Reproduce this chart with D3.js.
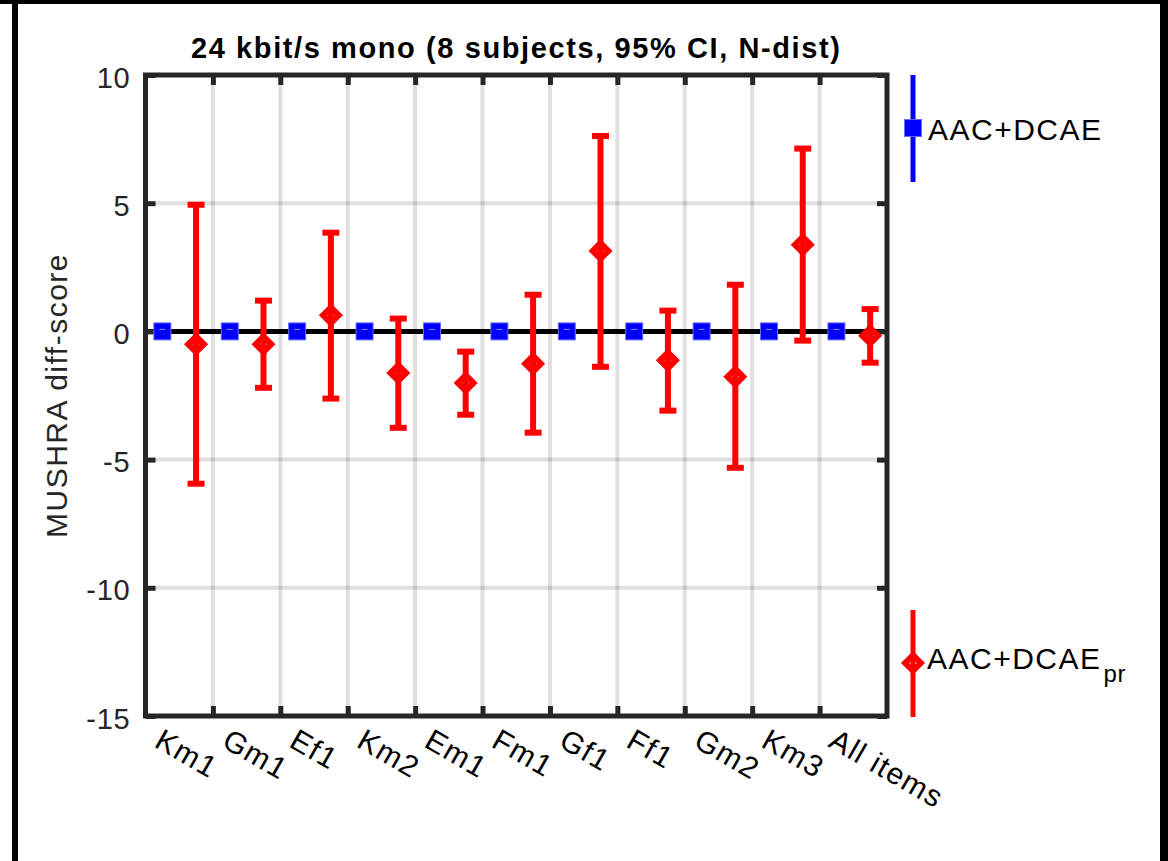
<!DOCTYPE html>
<html>
<head>
<meta charset="utf-8">
<script src="https://cdn.jsdelivr.net/npm/d3@7"></script>
<style>
  html, body { margin: 0; padding: 0; background: #fff; }
  svg { display: block; }
  text { font-family: "Liberation Sans", Arial, Helvetica, sans-serif; }
</style>
</head>
<body>
<script>
// ---- Data ----
const categories = ["Km1", "Gm1", "Ef1", "Km2", "Em1", "Fm1", "Gf1", "Ff1", "Gm2", "Km3", "All items"];
const refMean = [0, 0, 0, 0, 0, 0, 0, 0, 0, 0, 0];            // AAC+DCAE (reference, diff = 0)
const prMean  = [-0.50, -0.50, 0.63, -1.62, -2.01, -1.26, 3.14, -1.13, -1.77, 3.38, -0.17]; // AAC+DCAE_pr
const prLow   = [-5.94, -2.20, -2.62, -3.76, -3.25, -3.95, -1.38, -3.09, -5.32, -0.36, -1.22];
const prHigh  = [4.94, 1.20, 3.85, 0.50, -0.79, 1.43, 7.62, 0.81, 1.82, 7.13, 0.87];
const yTicks  = [-15, -10, -5, 0, 5, 10];
const yDomain = [-15, 10];
const titleText = "24 kbit/s mono (8 subjects, 95% CI, N-dist)";
const yLabel = "MUSHRA diff-score";
const seriesNames = ["AAC+DCAE", "AAC+DCAE"];

// ---- Layout ----
const W = 1168, H = 861;
const L = 145.5, R = 887, T = 75, B = 716;
const axisColor = "#262626";
const FF = "Liberation Sans, Arial, sans-serif";

const svg = d3.select("body").append("svg").attr("width", W).attr("height", H);

// outer frame (black borders of the figure image)
svg.append("rect").attr("x", 0).attr("y", 0).attr("width", W).attr("height", 4).attr("fill", "#000");
svg.append("rect").attr("x", 12).attr("y", 0).attr("width", 6).attr("height", H).attr("fill", "#000");
svg.append("rect").attr("x", 1160).attr("y", 0).attr("width", 8).attr("height", H).attr("fill", "#000");

const x = d3.scaleLinear().domain([0.5, categories.length + 0.5]).range([L, R]);
const y = d3.scaleLinear().domain(yDomain).range([B, T]);

const idx = categories.map((c, i) => i + 1);
const gridX = idx.slice(0, -1).map(i => i + 0.5);   // 1.5 ... 10.5
const labelX = idx.map(i => i - 0.5);               // 0.5 ... 10.5

// gridlines
const grid = svg.append("g");
grid.selectAll("line.gx").data(gridX).join("line")
  .attr("x1", d => x(d)).attr("x2", d => x(d)).attr("y1", T).attr("y2", B)
  .attr("stroke", axisColor).attr("stroke-opacity", 0.15).attr("stroke-width", 4);
grid.selectAll("line.gy").data(yTicks.filter(v => v > yDomain[0] && v < yDomain[1])).join("line")
  .attr("x1", L).attr("x2", R).attr("y1", d => y(d)).attr("y2", d => y(d))
  .attr("stroke", axisColor).attr("stroke-opacity", 0.15).attr("stroke-width", 4);

// zero line
svg.append("line").attr("x1", L).attr("x2", R).attr("y1", y(0)).attr("y2", y(0))
  .attr("stroke", "#000").attr("stroke-width", 5);

// axes (ticks inward)
const tickLen = 10;
const yAxisL = svg.append("g").attr("transform", `translate(${L},0)`)
  .call(d3.axisLeft(y).tickValues(yTicks).tickSize(-tickLen).tickPadding(15).tickSizeOuter(0)
    .tickFormat(d => String(d)));
yAxisL.select(".domain").remove();
yAxisL.selectAll(".tick line").attr("stroke", axisColor).attr("stroke-width", 5);
yAxisL.selectAll(".tick text").attr("fill", axisColor).attr("font-size", 29).attr("dy", "0.42em")
  .attr("letter-spacing", 0.8).attr("font-family", FF);

const yAxisR = svg.append("g").attr("transform", `translate(${R},0)`)
  .call(d3.axisRight(y).tickValues(yTicks).tickSize(-tickLen).tickFormat("").tickSizeOuter(0));
yAxisR.select(".domain").remove();
yAxisR.selectAll(".tick line").attr("stroke", axisColor).attr("stroke-width", 5);

const xAxisT = svg.append("g").attr("transform", `translate(0,${T})`)
  .call(d3.axisTop(x).tickValues(gridX).tickSize(-tickLen).tickFormat("").tickSizeOuter(0));
xAxisT.select(".domain").remove();
xAxisT.selectAll(".tick line").attr("stroke", axisColor).attr("stroke-width", 5);

const xAxisB = svg.append("g").attr("transform", `translate(0,${B})`)
  .call(d3.axisBottom(x).tickValues(gridX).tickSize(-tickLen).tickFormat("").tickSizeOuter(0));
xAxisB.select(".domain").remove();
xAxisB.selectAll(".tick line").attr("stroke", axisColor).attr("stroke-width", 5);

// x tick labels (rotated), at 0.5 ... 10.5
const lxOff = 7, lyOff = 30;
const xLab = svg.append("g").attr("transform", `translate(0,${B})`)
  .call(d3.axisBottom(x).tickValues(labelX).tickSize(0).tickFormat(d => categories[Math.round(d + 0.5) - 1]));
xLab.select(".domain").remove();
xLab.selectAll(".tick text")
  .attr("fill", "#000").attr("font-size", 30).attr("text-anchor", "start")
  .attr("letter-spacing", 1.4).attr("font-family", FF)
  .attr("x", lxOff).attr("y", lyOff).attr("dy", 0)
  .attr("transform", `rotate(30,${lxOff},${lyOff})`);

// box
svg.append("rect").attr("x", L).attr("y", T).attr("width", R - L).attr("height", B - T)
  .attr("fill", "none").attr("stroke", axisColor).attr("stroke-width", 5);

// ---- Series 1: AAC+DCAE (blue squares) ----
const sq = 17;
svg.append("g").selectAll("rect").data(refMean).join("rect")
  .attr("x", (d, i) => x(i + 1 - 0.25) - sq / 2).attr("y", d => y(d) - sq / 2)
  .attr("width", sq).attr("height", sq)
  .attr("fill", "#0000ff").attr("stroke", "#6a6aff").attr("stroke-width", 1);
svg.append("g").selectAll("line").data(refMean).join("line")
  .attr("x1", (d, i) => x(i + 1 - 0.25) - 3).attr("x2", (d, i) => x(i + 1 - 0.25) + 3)
  .attr("y1", d => y(d) - 2).attr("y2", d => y(d) - 2)
  .attr("stroke", "#8c8cff").attr("stroke-width", 1);

// ---- Series 2: AAC+DCAE_pr (red diamonds with 95% CI) ----
const red = "#ff0000";
const capW = 17, barW = 6;
const eb = svg.append("g");
eb.selectAll("line.v").data(prMean).join("line")
  .attr("x1", (d, i) => x(i + 1 + 0.25)).attr("x2", (d, i) => x(i + 1 + 0.25))
  .attr("y1", (d, i) => y(prLow[i])).attr("y2", (d, i) => y(prHigh[i]))
  .attr("stroke", red).attr("stroke-width", barW);
eb.selectAll("line.hi").data(prHigh).join("line")
  .attr("x1", (d, i) => x(i + 1 + 0.25) - capW / 2).attr("x2", (d, i) => x(i + 1 + 0.25) + capW / 2)
  .attr("y1", d => y(d)).attr("y2", d => y(d))
  .attr("stroke", red).attr("stroke-width", barW);
eb.selectAll("line.lo").data(prLow).join("line")
  .attr("x1", (d, i) => x(i + 1 + 0.25) - capW / 2).attr("x2", (d, i) => x(i + 1 + 0.25) + capW / 2)
  .attr("y1", d => y(d)).attr("y2", d => y(d))
  .attr("stroke", red).attr("stroke-width", barW);

const dr = 7.8;
const diamond = (cx, cy) => `M${cx},${cy - dr}L${cx + dr},${cy}L${cx},${cy + dr}L${cx - dr},${cy}Z`;
const dm = svg.append("g");
dm.selectAll("path").data(prMean).join("path")
  .attr("d", (d, i) => diamond(x(i + 1 + 0.25), y(d)))
  .attr("fill", "#fff").attr("stroke", red).attr("stroke-width", 6).attr("stroke-linejoin", "miter");
dm.selectAll("line").data(prMean).join("line")
  .attr("x1", (d, i) => x(i + 1 + 0.25)).attr("x2", (d, i) => x(i + 1 + 0.25))
  .attr("y1", d => y(d) - dr).attr("y2", d => y(d) + dr)
  .attr("stroke", red).attr("stroke-width", barW);

// ---- Title & labels ----
svg.append("text").attr("x", (L + R) / 2).attr("y", 58).attr("text-anchor", "middle")
  .attr("font-size", 29).attr("font-weight", "bold").attr("letter-spacing", 1.6)
  .attr("fill", "#000").text(titleText);

svg.append("text").attr("transform", `translate(67,${(T + B) / 2}) rotate(-90)`)
  .attr("text-anchor", "middle").attr("font-size", 30).attr("letter-spacing", 1.5)
  .attr("fill", axisColor).text(yLabel);

// ---- Legend ----
const lx = 913;
const lg = svg.append("g");
lg.append("line").attr("x1", lx).attr("x2", lx).attr("y1", 75).attr("y2", 182)
  .attr("stroke", "#0000ff").attr("stroke-width", 5);
lg.append("rect").attr("x", lx - sq / 2).attr("y", 128 - sq / 2).attr("width", sq).attr("height", sq)
  .attr("fill", "#0000ff").attr("stroke", "#6a6aff").attr("stroke-width", 1);
lg.append("text").attr("x", 928).attr("y", 140).attr("font-size", 30).attr("letter-spacing", 1.5)
  .attr("fill", "#000").text(seriesNames[0]);

lg.append("line").attr("x1", lx).attr("x2", lx).attr("y1", 610).attr("y2", 717)
  .attr("stroke", red).attr("stroke-width", 5);
lg.append("path").attr("d", diamond(lx, 663)).attr("fill", "#fff").attr("stroke", red).attr("stroke-width", 6);
lg.append("line").attr("x1", lx).attr("x2", lx).attr("y1", 663 - dr).attr("y2", 663 + dr)
  .attr("stroke", red).attr("stroke-width", 5);
const t2 = lg.append("text").attr("x", 927).attr("y", 669).attr("font-size", 30).attr("letter-spacing", 1.5)
  .attr("fill", "#000");
t2.append("tspan").text(seriesNames[1]);
t2.append("tspan").attr("dy", 13).attr("dx", 2).attr("font-size", 24).attr("letter-spacing", 0.5).text("pr");
</script>
</body>
</html>
